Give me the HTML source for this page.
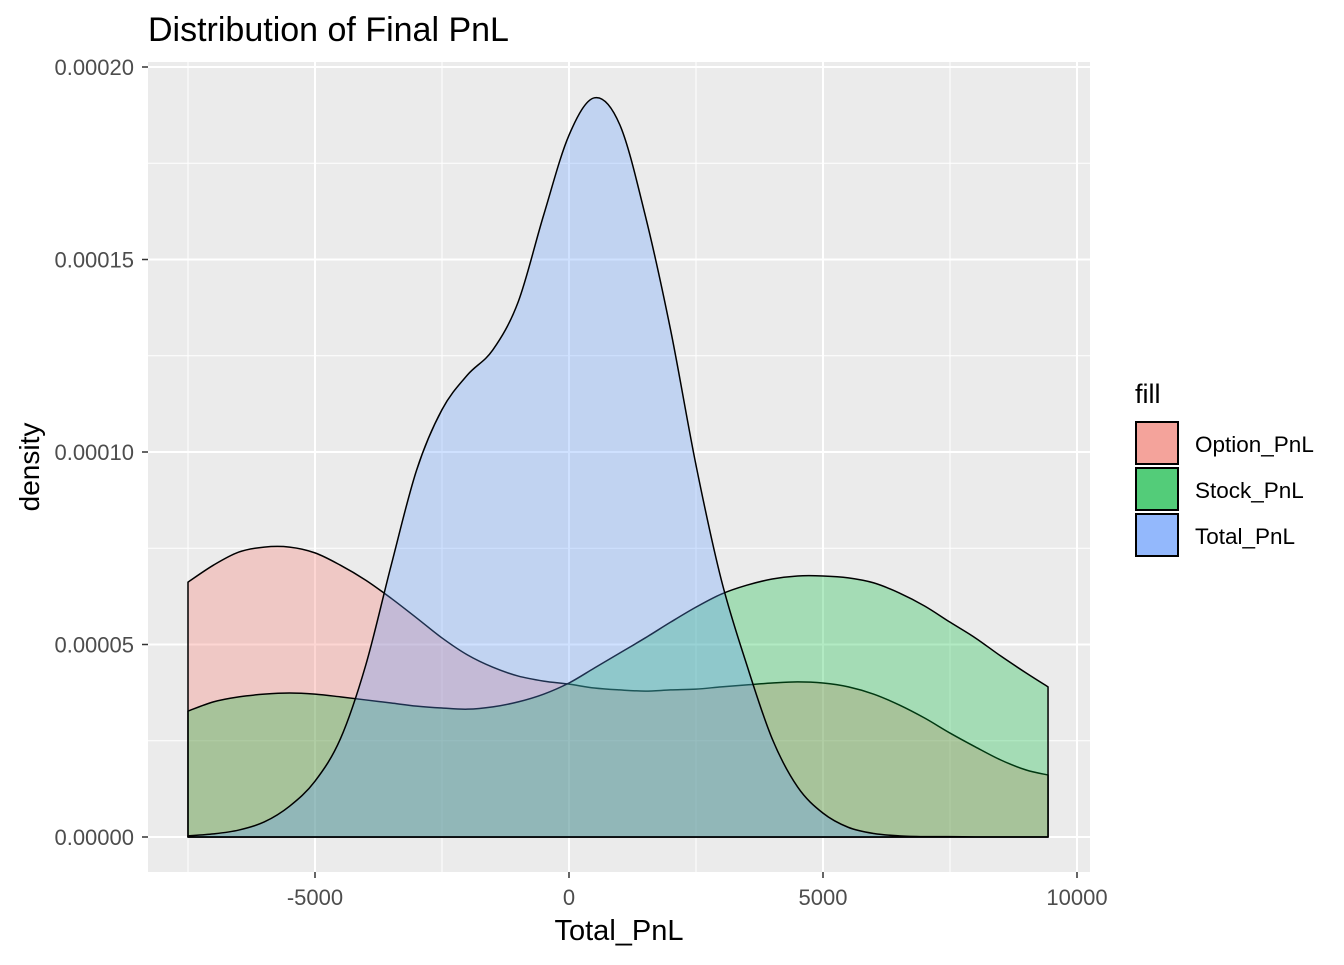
<!DOCTYPE html>
<html><head><meta charset="utf-8"><style>
body{margin:0;background:#fff;}
svg text{font-family:"Liberation Sans",Arial,sans-serif;}
</style></head><body>
<svg id="chart" width="1344" height="960" xmlns="http://www.w3.org/2000/svg">
<rect width="1344" height="960" fill="#fff"/>
<text x="148" y="41" font-size="34" fill="#000">Distribution of Final PnL</text>
<rect x="148" y="62" width="942" height="810" fill="#ebebeb"/>
<g id="grid"></g>
<g id="series"></g>
<g id="axes"></g>
<text x="619" y="940" font-size="29" text-anchor="middle" fill="#000">Total_PnL</text>
<text transform="translate(39,467) rotate(-90)" font-size="28" text-anchor="middle" fill="#000">density</text>
<g>
<text x="1135" y="403" font-size="27" fill="#000">fill</text>
<rect x="1136" y="422" width="42" height="42" fill="#F4A39B" stroke="#000" stroke-width="2"/>
<rect x="1136" y="468" width="42" height="42" fill="#53CC79" stroke="#000" stroke-width="2"/>
<rect x="1136" y="514" width="42" height="42" fill="#93B8FC" stroke="#000" stroke-width="2"/>
<text x="1195" y="452" font-size="22.5" fill="#000">Option_PnL</text>
<text x="1195" y="498" font-size="22.5" fill="#000">Stock_PnL</text>
<text x="1195" y="544" font-size="22.5" fill="#000">Total_PnL</text>
</g>
</svg>
<script>
const xs = [-7500,-7000,-6500,-6000,-5500,-5000,-4500,-4000,-3500,-3000,-2500,-2000,-1500,-1000,-500,0,500,1000,1500,2000,2500,3000,3500,4000,4500,5000,5500,6000,6500,7000,7500,8000,8500,9000,9430];
const optionPnL = [6.62,7.06,7.40,7.53,7.53,7.38,7.06,6.67,6.20,5.69,5.17,4.73,4.41,4.18,4.05,3.97,3.87,3.82,3.79,3.82,3.84,3.90,3.95,4.00,4.03,4.00,3.90,3.71,3.43,3.09,2.70,2.34,2.00,1.74,1.61];
const stockPnL = [3.27,3.51,3.64,3.71,3.74,3.71,3.64,3.56,3.48,3.40,3.35,3.32,3.38,3.51,3.71,4.00,4.39,4.78,5.17,5.58,5.97,6.31,6.54,6.70,6.78,6.78,6.73,6.60,6.34,6.00,5.58,5.17,4.70,4.26,3.90];
const totalPnL = [0.03,0.08,0.18,0.39,0.80,1.45,2.55,4.47,7.06,9.53,11.10,12.00,12.65,13.90,16.15,18.23,19.20,18.50,16.15,13.17,9.66,6.67,4.47,2.55,1.30,0.62,0.25,0.09,0.03,0.01,0.01,0,0,0,0];
const scaleY = 1e-5;
const xTicks = [-5000,0,5000,10000];
const xTickLabels = ["-5000","0","5000","10000"];
const yTicks = [0,0.00005,0.0001,0.00015,0.0002];
const yTickLabels = ["0.00000","0.00005","0.00010","0.00015","0.00020"];
const xMinor = [-7500,-2500,2500,7500];
const yMinor = [0.000025,0.000075,0.000125,0.000175];

const NS="http://www.w3.org/2000/svg";
const X = v => 569 + (v)*0.0508;
const Y = v => 837 - v/0.00005*192.5;
function mk(tag, attrs, parent){const e=document.createElementNS(NS,tag);for(const k in attrs)e.setAttribute(k,attrs[k]);parent.appendChild(e);return e;}
const grid=document.getElementById('grid'), axes=document.getElementById('axes'), series=document.getElementById('series');
xMinor.forEach(v=>{const l=mk('line',{x1:X(v),x2:X(v),y1:62,y2:872,stroke:'#fff','stroke-width':1},grid);

});
yMinor.forEach(v=>{const l=mk('line',{x1:148,x2:1090,y1:Y(v),y2:Y(v),stroke:'#fff','stroke-width':1},grid);

});
xTicks.forEach((v,i)=>{const l=mk('line',{x1:X(v),x2:X(v),y1:62,y2:872,stroke:'#fff','stroke-width':2},grid);


const t=mk('line',{x1:X(v),x2:X(v),y1:872,y2:878,stroke:'#333','stroke-width':1.5},axes);


const tx=mk('text',{x:X(v),y:905,'font-size':22,'text-anchor':'middle',fill:'#4d4d4d'},axes);tx.textContent=xTickLabels[i];

});
yTicks.forEach((v,i)=>{const l=mk('line',{x1:148,x2:1090,y1:Y(v),y2:Y(v),stroke:'#fff','stroke-width':2},grid);


const t=mk('line',{x1:142,x2:148,y1:Y(v),y2:Y(v),stroke:'#333','stroke-width':1.5},axes);


const tx=mk('text',{x:134,y:Y(v)+8,'font-size':22,'text-anchor':'end',fill:'#4d4d4d'},axes);tx.textContent=yTickLabels[i];

});
function area(vals,color,name){
  const pts=xs.map((x,i)=>[X(x),Y(vals[i]*scaleY)]);
  let d='M'+X(xs[0])+','+Y(0)+' L'+pts[0][0]+','+pts[0][1].toFixed(2);
  for(let i=0;i<pts.length-1;i++){
    const p0=pts[Math.max(0,i-1)],p1=pts[i],p2=pts[i+1],p3=pts[Math.min(pts.length-1,i+2)];
    const c1=[p1[0]+(p2[0]-p0[0])/6,p1[1]+(p2[1]-p0[1])/6];
    const c2=[p2[0]-(p3[0]-p1[0])/6,p2[1]-(p3[1]-p1[1])/6];
    d+=' C'+c1[0].toFixed(2)+','+c1[1].toFixed(2)+' '+c2[0].toFixed(2)+','+c2[1].toFixed(2)+' '+p2[0].toFixed(2)+','+p2[1].toFixed(2);
  }
  d+=' L'+X(xs[xs.length-1])+','+Y(0)+' Z';
  const p=mk('path',{d:d,fill:color,'fill-opacity':0.3,stroke:'#000','stroke-width':1.5,'stroke-linejoin':'round'},series);
  
  
}
area(optionPnL,'#F8766D','density-option-pnl');
area(stockPnL,'#00BA38','density-stock-pnl');
area(totalPnL,'#619CFF','density-total-pnl');
</script>
</body></html>
